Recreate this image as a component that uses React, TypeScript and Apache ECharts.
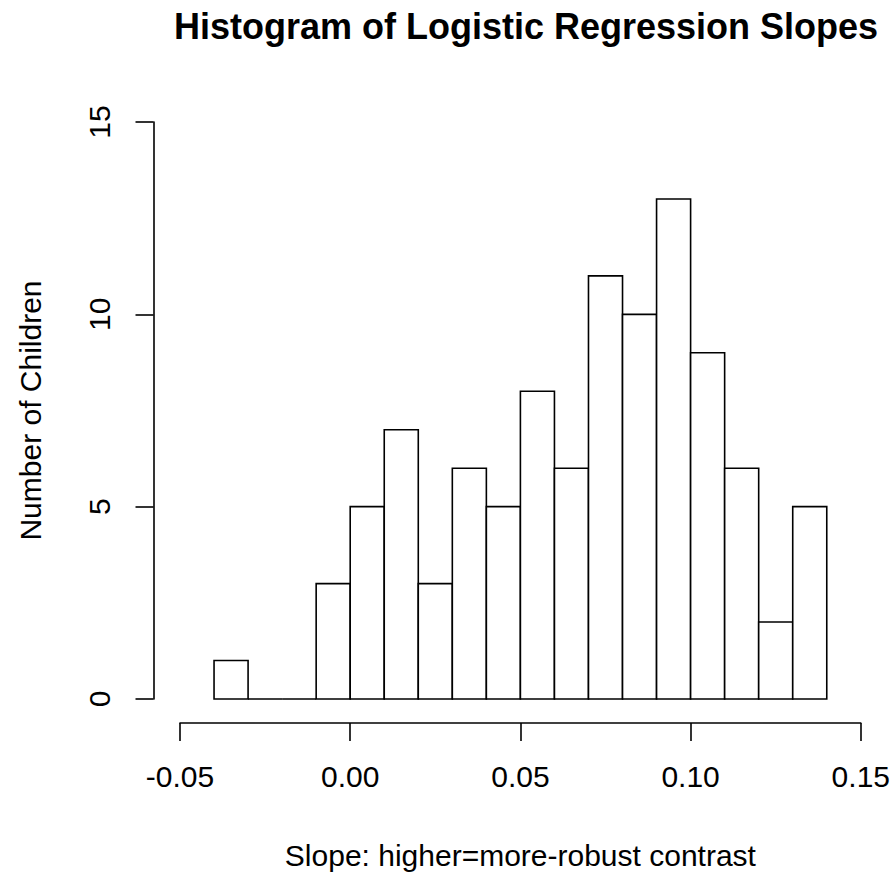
import React, { useEffect, useRef } from "react";
import * as echarts from "echarts";

// Histogram break points (bin edges) and counts per bin
const breaks = [-0.04, -0.03, -0.02, -0.01, 0.0, 0.01, 0.02, 0.03, 0.04, 0.05, 0.06, 0.07, 0.08, 0.09, 0.1, 0.11, 0.12, 0.13, 0.14];
const counts = [1, 0, 0, 3, 5, 7, 3, 6, 5, 8, 6, 11, 10, 13, 9, 6, 2, 5];

const xTicks = [-0.05, 0.0, 0.05, 0.1, 0.15];
const yTicks = [0, 5, 10, 15];

const titleText = "Histogram of Logistic Regression Slopes";
const xLabel = "Slope: higher=more-robust contrast";
const yLabel = "Number of Children";

const FONT = "'Liberation Sans', Arial, Helvetica, sans-serif";

export default function App() {
  const ref = useRef<HTMLDivElement>(null);

  useEffect(() => {
    if (!ref.current) return;
    const chart = echarts.init(ref.current, null, { renderer: "svg" });

    const data = counts.map((c, i) => [breaks[i], breaks[i + 1], c]);

    const axisCommon = {
      axisLine: { show: true, onZero: false, lineStyle: { color: "#000", width: 1.6 } },
      axisTick: { show: true, inside: false, length: 18, lineStyle: { color: "#000", width: 1.6 } },
      splitLine: { show: false },
    };

    chart.setOption({
      animation: false,
      backgroundColor: "#fff",
      textStyle: { fontFamily: FONT },
      title: {
        text: titleText,
        left: 521,
        top: 3,
        textAlign: "center",
        textStyle: { fontFamily: FONT, fontSize: 36, fontWeight: "bold", color: "#000" },
      },
      grid: { left: 180, right: 31, top: 122, bottom: 173.5, containLabel: false },
      xAxis: {
        type: "value",
        min: xTicks[0],
        max: xTicks[xTicks.length - 1],
        interval: 0.05,
        offset: 24,
        ...axisCommon,
        axisLabel: {
          show: true,
          margin: 38,
          fontSize: 30,
          fontFamily: FONT,
          color: "#000",
          showMinLabel: true,
          showMaxLabel: true,
          hideOverlap: false,
          formatter: (v: number) => (Math.abs(v) < 1e-9 ? 0 : v).toFixed(2),
        },
        name: xLabel,
        nameLocation: "middle",
        nameGap: 117,
        nameTextStyle: { fontSize: 30, fontFamily: FONT, color: "#000" },
      },
      yAxis: {
        type: "value",
        min: yTicks[0],
        max: yTicks[yTicks.length - 1],
        interval: 5,
        offset: 26.5,
        ...axisCommon,
        axisLabel: {
          show: true,
          rotate: 90,
          margin: 39,
          fontSize: 30,
          fontFamily: FONT,
          color: "#000",
          showMinLabel: true,
          showMaxLabel: true,
        },
        name: yLabel,
        nameLocation: "middle",
        nameRotate: 90,
        nameGap: 108,
        nameTextStyle: { fontSize: 30, fontFamily: FONT, color: "#000" },
      },
      series: [
        {
          type: "custom",
          data,
          encode: { x: [0, 1], y: 2 },
          clip: false,
          renderItem: (_params: any, api: any) => {
            const a = api.coord([api.value(0), 0]);
            const b = api.coord([api.value(1), api.value(2)]);
            return {
              type: "polygon",
              shape: {
                points: [
                  [a[0], a[1]],
                  [a[0], b[1]],
                  [b[0], b[1]],
                  [b[0], a[1]],
                ],
              },
              style: { fill: "#fff", stroke: "#000", lineWidth: 1.6 },
            };
          },
        },
      ],
    });

    return () => {
      chart.dispose();
    };
  }, []);

  return (
    <div
      ref={ref}
      style={{ position: "absolute", left: 0, top: 0, width: 893, height: 875, background: "#fff" }}
    />
  );
}
